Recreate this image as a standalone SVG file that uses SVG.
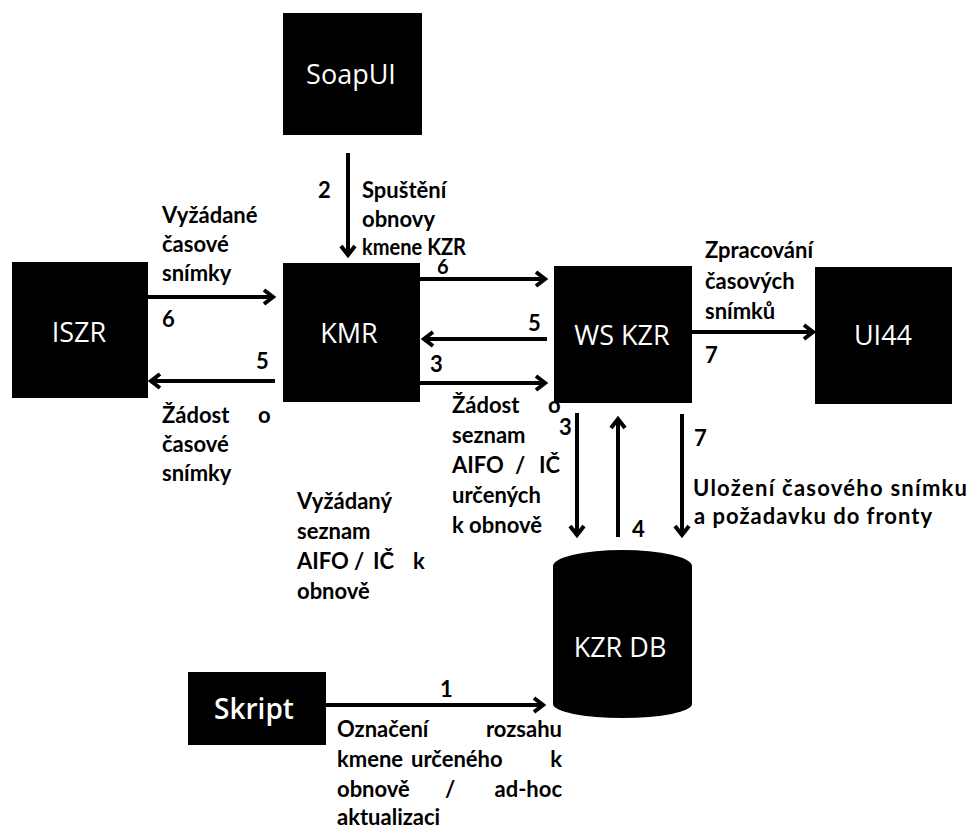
<svg xmlns="http://www.w3.org/2000/svg" width="972" height="831" viewBox="0 0 972 831">
  <style>
    .box { fill: #000; }
    .name { font-family: "Open Sans", "Liberation Sans", sans-serif; font-size: 27px; fill: #fff; text-anchor: middle; }
    .lbl { font-family: Lato, "Liberation Sans", sans-serif; font-weight: bold; font-size: 22px; fill: #000; }
    .wire { stroke: #000; stroke-width: 4; fill: none; marker-end: url(#head); }
  </style>
  <defs>
    <marker id="head" markerUnits="userSpaceOnUse" viewBox="0 0 14 18" markerWidth="14" markerHeight="18" refX="11" refY="9" orient="auto">
      <path d="M2,2 L11,9 L2,16" fill="none" stroke="#000" stroke-width="4" stroke-linejoin="miter"/>
    </marker>
  </defs>
  <rect width="972" height="831" fill="#fff"/>

  <!-- nodes -->
  <g id="soapui">
    <rect class="box" x="283" y="13" width="139" height="122"/>
    <text class="name" x="351" y="84">SoapUI</text>
  </g>
  <g id="iszr">
    <rect class="box" x="12" y="262" width="136" height="136"/>
    <text class="name" x="79" y="342">ISZR</text>
  </g>
  <g id="kmr">
    <rect class="box" x="283" y="263" width="137" height="139"/>
    <text class="name" x="349" y="343">KMR</text>
  </g>
  <g id="ws-kzr">
    <rect class="box" x="554" y="266" width="138" height="137"/>
    <text class="name" x="622" y="345">WS KZR</text>
  </g>
  <g id="ui44">
    <rect class="box" x="815" y="267" width="137" height="137"/>
    <text class="name" x="883" y="345">UI44</text>
  </g>
  <g id="kzr-db">
    <path class="box" d="M553,566 A69.5,16 0 0 1 692,566 L692,704 A69.5,14 0 0 1 553,704 Z"/>
    <text class="name" x="620" y="657">KZR DB</text>
  </g>
  <g id="skript">
    <rect class="box" x="188" y="672" width="138" height="73"/>
    <text class="name" x="254" y="719" style="font-size:28px;font-weight:600">Skript</text>
  </g>

  <!-- connectors -->
  <g id="connectors">
    <line class="wire" x1="348" y1="153" x2="348" y2="255"/>
    <line class="wire" x1="148" y1="297" x2="273" y2="297"/>
    <line class="wire" x1="275" y1="381" x2="151" y2="381"/>
    <line class="wire" x1="420" y1="279" x2="545" y2="279"/>
    <line class="wire" x1="547" y1="339" x2="424" y2="339"/>
    <line class="wire" x1="420" y1="383" x2="545" y2="383"/>
    <line class="wire" x1="692" y1="332" x2="813" y2="332"/>
    <line class="wire" x1="577" y1="413" x2="577" y2="535"/>
    <line class="wire" x1="618" y1="537" x2="618" y2="419"/>
    <line class="wire" x1="682" y1="414" x2="682" y2="535"/>
    <line class="wire" x1="326" y1="705" x2="543" y2="705"/>
  </g>

  <!-- connector labels -->
  <g id="labels" class="lbl">
    <text x="318" y="198">2</text>
    <text x="362" y="198">Spuštění</text>
    <text x="362" y="227">obnovy</text>
    <text x="362" y="255" textLength="104" lengthAdjust="spacingAndGlyphs">kmene KZR</text>

    <text x="162" y="223">Vyžádané</text>
    <text x="162" y="252">časové</text>
    <text x="162" y="281">snímky</text>
    <text x="162" y="327">6</text>
    <text x="256" y="369">5</text>
    <text x="162" y="423">Žádost</text>
    <text x="258" y="423">o</text>
    <text x="162" y="452">časové</text>
    <text x="162" y="481">snímky</text>

    <text x="437" y="274" style="font-size:20px">6</text>
    <text x="528" y="331">5</text>
    <text x="430" y="372">3</text>

    <text x="452" y="413">Žádost</text>
    <text x="548" y="413">o</text>
    <text x="452" y="443">seznam</text>
    <text x="452" y="473">AIFO</text>
    <text x="515" y="473">/</text>
    <text x="539" y="473">IČ</text>
    <text x="452" y="503">určených</text>
    <text x="452" y="533">k obnově</text>
    <text x="559" y="435">3</text>

    <text x="297" y="509">Vyžádaný</text>
    <text x="297" y="539">seznam</text>
    <text x="297" y="569">AIFO</text>
    <text x="354" y="569">/</text>
    <text x="373" y="569">IČ</text>
    <text x="413" y="569">k</text>
    <text x="297" y="599">obnově</text>

    <text x="632" y="537">4</text>
    <text x="694" y="446">7</text>
    <text x="693" y="496" textLength="274" lengthAdjust="spacing">Uložení časového snímku</text>
    <text x="694" y="524" textLength="238" lengthAdjust="spacing">a požadavku do fronty</text>

    <text x="705" y="258">Zpracování</text>
    <text x="705" y="289">časových</text>
    <text x="705" y="319">snímků</text>
    <text x="705" y="363">7</text>

    <text x="440" y="697">1</text>
    <text x="337" y="737">Označení</text>
    <text x="562" y="737" text-anchor="end">rozsahu</text>
    <text x="337" y="767">kmene</text>
    <text x="411" y="767">určeného</text>
    <text x="562" y="767" text-anchor="end">k</text>
    <text x="337" y="797">obnově</text>
    <text x="445" y="797">/</text>
    <text x="562" y="797" text-anchor="end">ad-hoc</text>
    <text x="337" y="825">aktualizaci</text>
  </g>
</svg>
